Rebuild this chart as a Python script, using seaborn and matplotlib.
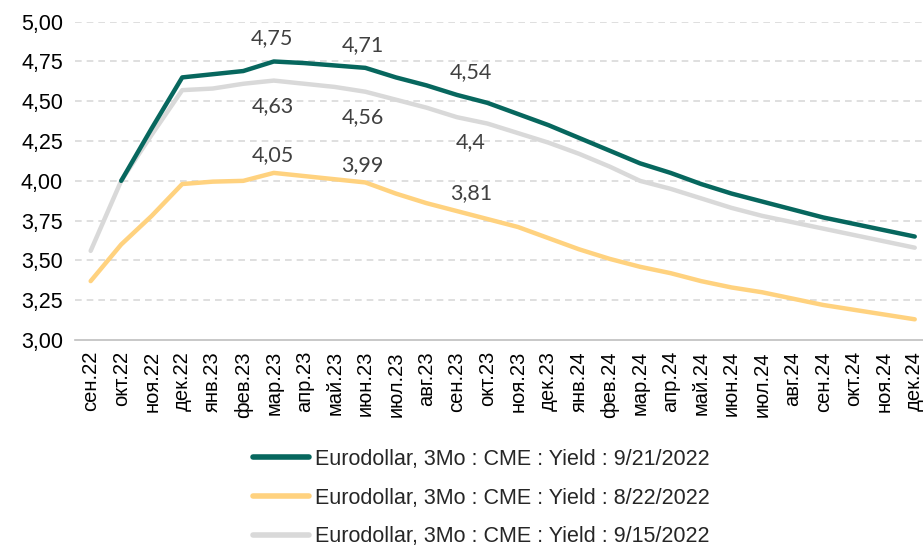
import matplotlib
matplotlib.use("Agg")
import matplotlib.pyplot as plt
import seaborn as sns
import numpy as np
import pandas as pd

months = ["сен.22", "окт.22", "ноя.22", "дек.22", "янв.23", "фев.23", "мар.23", "апр.23",
          "май.23", "июн.23", "июл.23", "авг.23", "сен.23", "окт.23", "ноя.23", "дек.23",
          "янв.24", "фев.24", "мар.24", "апр.24", "май.24", "июн.24", "июл.24", "авг.24",
          "сен.24", "окт.24", "ноя.24", "дек.24"]

s_0921 = [np.nan, 4.00, 4.33, 4.65, 4.67, 4.69, 4.75, 4.74, 4.725, 4.71, 4.65, 4.60, 4.54,
          4.49, 4.42, 4.35, 4.27, 4.19, 4.11, 4.05, 3.98, 3.92, 3.87, 3.82, 3.77, 3.73, 3.69, 3.65]
s_0822 = [3.37, 3.60, 3.78, 3.98, 3.995, 4.00, 4.05, 4.03, 4.01, 3.99, 3.92, 3.86, 3.81,
          3.76, 3.71, 3.64, 3.57, 3.51, 3.46, 3.42, 3.37, 3.33, 3.30, 3.26, 3.22, 3.19, 3.16, 3.13]
s_0915 = [3.56, 4.00, 4.29, 4.57, 4.58, 4.61, 4.63, 4.61, 4.59, 4.56, 4.51, 4.46, 4.40,
          4.36, 4.30, 4.24, 4.17, 4.09, 4.00, 3.95, 3.89, 3.83, 3.78, 3.74, 3.70, 3.66, 3.62, 3.58]

names = ["Eurodollar, 3Mo : CME : Yield : 9/21/2022",
         "Eurodollar, 3Mo : CME : Yield : 8/22/2022",
         "Eurodollar, 3Mo : CME : Yield : 9/15/2022"]
colors = ["#07675E", "#FFD27F", "#D9D9D9"]

label_idx = [6, 9, 12]

sns.set_theme(style="white")
plt.rcParams['font.family'] = ['Liberation Sans', 'DejaVu Sans']

fig = plt.figure(figsize=(9.23, 5.47), dpi=100)
ax = fig.add_axes([75.4 / 923, (547 - 340) / 547, (930 - 75.4) / 923, (340 - 21.7) / 547])

x = np.arange(len(months))
df = pd.DataFrame({"x": np.tile(x, 3),
                   "y": s_0921 + s_0822 + s_0915,
                   "series": np.repeat(names, len(months))})

order = [2, 1, 0]
for i in order:
    sub = df[df.series == names[i]]
    sns.lineplot(data=sub, x="x", y="y", ax=ax, color=colors[i], lw=3.2,
                 solid_capstyle="round", label=names[i], legend=False, zorder=3 + (2 - i))

ax.set_xlim(-0.5, len(months) - 0.5)
ax.set_ylim(3.0, 5.0)
yt = np.arange(3.0, 5.01, 0.25)
ax.set_yticks(yt)
ax.set_yticklabels([f"{v:.2f}".replace(".", ",") for v in yt], fontsize=15.5, color="#000000")
ax.set_xticks(x)
ax.set_xticklabels(months, rotation=90, fontsize=14.5, color="#000000")
ax.set_xticks(np.arange(-0.5, len(months), 1), minor=True)
ax.tick_params(axis="x", which="major", length=0, pad=8)
ax.tick_params(axis="x", which="minor", length=6, color="#BFBFBF", width=1, direction="out")
ax.tick_params(axis="y", length=0, pad=9)
ax.set_xlabel("")
ax.set_ylabel("")
for v in yt[1:]:
    ax.axhline(v, color="#D9D9D9", lw=1.2, ls=(0, (4, 3)), zorder=1)
for sp in ["top", "right", "left"]:
    ax.spines[sp].set_visible(False)
ax.spines["bottom"].set_color("#BFBFBF")
ax.spines["bottom"].set_linewidth(1.2)

yoff = {0: 9.5, 1: 5.5, 2: -11}
xoff = {6: -1, 9: -2, 12: 10}
for i, ser in enumerate([s_0921, s_0822, s_0915]):
    for k in label_idx:
        v = ser[k]
        txt = f"{v:g}".replace(".", ",")
        off = yoff[i]
        ax.annotate(txt, (k, v), xytext=(xoff[k], off), textcoords="offset points",
                    ha="center", va="bottom" if off > 0 else "top",
                    fontsize=15.5, color="#404040", family=["Lato", "DejaVu Sans"], zorder=10)

handles = [plt.Line2D([], [], color=c, lw=4, solid_capstyle="round") for c in colors]
fig.legend(handles, names, loc="upper left", bbox_to_anchor=(253 / 923, 1 - 449 / 547),
           frameon=False, fontsize=15.5, handlelength=2.6, handletextpad=0.3,
           labelspacing=0.82, borderaxespad=0, borderpad=0)

fig.savefig("out.png", dpi=100)
